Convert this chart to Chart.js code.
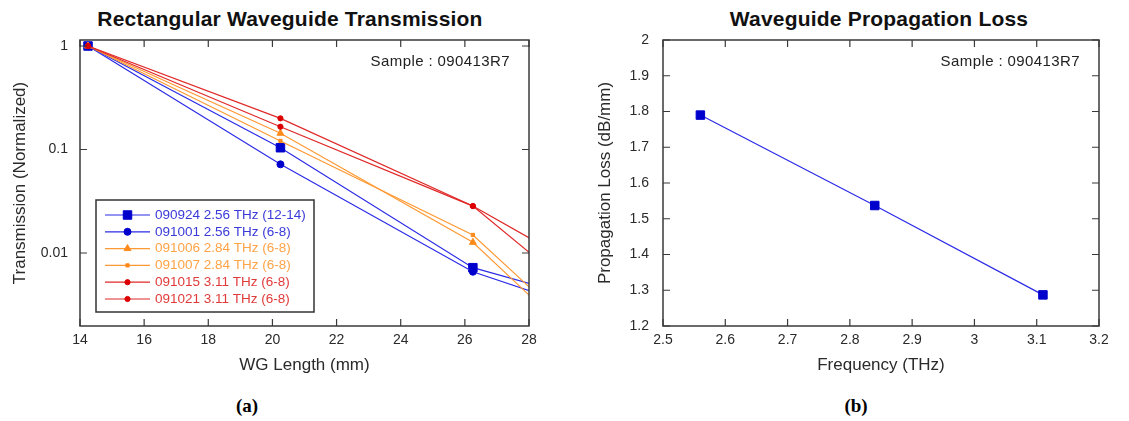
<!DOCTYPE html>
<html>
<head>
<meta charset="utf-8">
<script src="https://cdn.jsdelivr.net/npm/chart.js@4.4.0/dist/chart.umd.min.js"></script>
<style>
  body { margin: 0; background: #fff; width: 1129px; height: 421px; position: relative; overflow: hidden; }
  .box { position: absolute; top: 0; height: 380px; }
  #boxA { left: 0; width: 560px; }
  #boxB { left: 565px; width: 564px; }
  .title { position: absolute; top: 7px; font: bold 21px "Liberation Sans", Arial, sans-serif; letter-spacing: 0.2px;
           color: #111; transform: translateX(-50%); white-space: nowrap; }
  .cap { position: absolute; top: 395px; font: bold 19px "Liberation Serif", serif; color: #000; transform: translateX(-50%); }
</style>
</head>
<body>
<div class="title" style="left:290px">Rectangular Waveguide Transmission</div>
<div class="title" style="left:879px">Waveguide Propagation Loss</div>
<div id="boxA" class="box"><canvas id="chartA"></canvas></div>
<div id="boxB" class="box"><canvas id="chartB"></canvas></div>
<div class="cap" style="left:247px">(a)</div>
<div class="cap" style="left:856px">(b)</div>

<script>
// (a) transmission vs waveguide length, last point sits past the axis and gets clipped
const lengths = [14.25, 20.25, 26.25, 32.25];
const t090924 = [1, 0.104, 0.00721, 0.00219];
const t091001 = [1, 0.0719, 0.00659, 0.00155];
const t091006 = [1, 0.1435, 0.01268, 0.000228];
const t091007 = [1, 0.121, 0.01493, 0.000288];
const t091015 = [1, 0.200, 0.0284, 0.00254];
const t091021 = [1, 0.166, 0.0284, 0.000834];
const seriesNames = ["090924 2.56 THz (12-14)", "091001 2.56 THz (6-8)", "091006 2.84 THz (6-8)",
                     "091007 2.84 THz (6-8)", "091015 3.11 THz (6-8)", "091021 3.11 THz (6-8)"];
const lengthTicks = [14, 16, 18, 20, 22, 24, 26, 28];
const transTicks = [0.01, 0.1, 1];

// (b) loss vs frequency
const freqs = [2.56, 2.84, 3.11];
const lossDbPerMm = [1.79, 1.537, 1.287];
const freqTicks = [2.5, 2.6, 2.7, 2.8, 2.9, 3, 3.1, 3.2];
const lossTicks = [1.2, 1.3, 1.4, 1.5, 1.6, 1.7, 1.8, 1.9, 2];

const sampleNote = "Sample : 090413R7";

const FONT = '"Liberation Sans", Arial, sans-serif';
const BLUE = '#2b2be6', BLUE_M = '#0000cc';
const ORANGE = '#ff9933', ORANGE_M = '#ff8a1c';
const RED = '#e02828', RED_M = '#dd0000';
const legendTextColors = ['#3a3ad8', '#3a3ad8', '#ffa347', '#ffa347', '#e03a3a', '#e03a3a'];

function pts(xs, ys) { return xs.map((x, i) => ({x: x, y: ys[i]})); }

function series(i, ys, line, mark, style, r, order) {
  return {
    label: seriesNames[i], data: pts(lengths, ys), order: order,
    borderColor: line, borderWidth: 1.2, backgroundColor: mark,
    pointStyle: style, pointRadius: r, pointBorderWidth: 1,
    pointBackgroundColor: mark, pointBorderColor: mark
  };
}

// frame box + inward ticks on all four sides + the sample note
const frameTicks = {
  id: 'frameTicks',
  afterDatasetsDraw(chart, args, opts) {
    const {ctx, chartArea: a, scales} = chart;
    const len = 7;
    ctx.save();
    ctx.strokeStyle = '#3a3a3a';
    ctx.lineWidth = 1.5;
    ctx.strokeRect(a.left, a.top, a.right - a.left, a.bottom - a.top);
    ctx.lineWidth = 1.2;
    ctx.beginPath();
    scales.x.ticks.forEach(t => {
      const px = scales.x.getPixelForValue(t.value);
      ctx.moveTo(px, a.bottom); ctx.lineTo(px, a.bottom - len);
      ctx.moveTo(px, a.top); ctx.lineTo(px, a.top + len);
    });
    scales.y.ticks.forEach(t => {
      const py = scales.y.getPixelForValue(t.value);
      ctx.moveTo(a.left, py); ctx.lineTo(a.left + len, py);
      ctx.moveTo(a.right, py); ctx.lineTo(a.right - len, py);
    });
    ctx.stroke();
    if (opts.note) {
      ctx.font = '15px ' + FONT;
      ctx.letterSpacing = '0.4px';
      ctx.fillStyle = '#222';
      ctx.textAlign = 'right';
      ctx.textBaseline = 'middle';
      ctx.fillText(opts.note, a.right - 19, a.top + 22);
    }
    ctx.restore();
  }
};

// boxed legend inside the plot, lower left
const boxLegend = {
  id: 'boxLegend',
  afterDraw(chart, args, o) {
    if (!o.show) return;
    const {ctx, chartArea: a} = chart;
    const x0 = a.left + o.left, y0 = a.bottom - o.bottom - o.height;
    ctx.save();
    ctx.fillStyle = '#fff';
    ctx.fillRect(x0, y0, o.width, o.height);
    ctx.strokeStyle = '#333';
    ctx.lineWidth = 1.5;
    ctx.strokeRect(x0, y0, o.width, o.height);
    ctx.font = '13.5px ' + FONT;
    ctx.textBaseline = 'middle';
    ctx.textAlign = 'left';
    chart.data.datasets.forEach((ds, i) => {
      const y = y0 + o.first + i * o.row;
      const lx0 = x0 + 9, lx1 = lx0 + 45;
      ctx.strokeStyle = ds.borderColor;
      ctx.lineWidth = ds.borderWidth;
      ctx.beginPath(); ctx.moveTo(lx0, y); ctx.lineTo(lx1, y); ctx.stroke();
      ctx.fillStyle = ds.pointBackgroundColor;
      ctx.strokeStyle = ds.pointBorderColor;
      ctx.lineWidth = ds.pointBorderWidth;
      Chart.helpers.drawPoint(ctx, {pointStyle: ds.pointStyle, radius: ds.pointRadius,
        borderWidth: ds.pointBorderWidth, rotation: 0}, (lx0 + lx1) / 2, y);
      ctx.fillStyle = legendTextColors[i];
      ctx.fillText(ds.label, lx1 + 5, y);
    });
    ctx.restore();
  }
};

function fixSize(w, h) {
  return function (scale) {
    if (w != null) scale.width = w;
    if (h != null) scale.height = h;
    scale.paddingLeft = scale.paddingRight = scale.paddingTop = scale.paddingBottom = 0;
  };
}

function useTicks(list) {
  return function (scale) { scale.ticks = list.map(v => ({value: v})); };
}

function fmt(v) { return String(Math.round(v * 100) / 100); }

function axis(extra, titleText, titlePad, tickPad) {
  return Object.assign({
    grid: {display: false, drawTicks: false},
    border: {display: false},
    ticks: {font: {size: 14, family: FONT}, color: '#2a2a2a', padding: tickPad, callback: fmt, maxRotation: 0, autoSkip: false},
    title: {display: true, text: titleText, font: {size: 17, family: FONT}, color: '#2a2a2a', padding: titlePad}
  }, extra);
}

Chart.register(frameTicks, boxLegend);

new Chart(document.getElementById('chartA'), {
  type: 'line',
  data: {
    datasets: [
      series(0, t090924, BLUE, BLUE_M, 'rect', 6, 6),
      series(1, t091001, BLUE, BLUE_M, 'circle', 3.5, 5),
      series(2, t091006, ORANGE, ORANGE_M, 'triangle', 4, 4),
      series(3, t091007, ORANGE, ORANGE_M, 'rect', 2.3, 3),
      series(4, t091015, RED, RED_M, 'circle', 2.6, 2),
      series(5, t091021, RED, RED_M, 'circle', 2.6, 1)
    ]
  },
  options: {
    responsive: true, maintainAspectRatio: false, animation: false,
    layout: {padding: {top: 40, left: 0, right: 31, bottom: 0}, autoPadding: false},
    plugins: {
      legend: {display: false}, tooltip: {enabled: false},
      frameTicks: {note: sampleNote},
      boxLegend: {show: true, left: 16, bottom: 14, width: 218, height: 112, first: 15, row: 16.8}
    },
    scales: {
      x: axis({type: 'linear', min: 14, max: 28, afterBuildTicks: useTicks(lengthTicks), afterFit: fixSize(null, 54)},
              'WG Length (mm)', {top: 0, bottom: 4}, 5.6),
      y: axis({type: 'logarithmic', min: 0.00197, max: 1.143, afterBuildTicks: useTicks(transTicks), afterFit: fixSize(80, null)},
              'Transmission (Normalized)', {top: 10, bottom: 0}, 12)
    }
  }
});

new Chart(document.getElementById('chartB'), {
  type: 'line',
  data: {
    datasets: [{
      label: 'Propagation Loss', data: pts(freqs, lossDbPerMm),
      borderColor: BLUE, borderWidth: 1.2, backgroundColor: BLUE_M,
      pointStyle: 'rect', pointRadius: 6, pointBorderWidth: 1,
      pointBackgroundColor: BLUE_M, pointBorderColor: BLUE_M
    }]
  },
  options: {
    responsive: true, maintainAspectRatio: false, animation: false,
    layout: {padding: {top: 40, left: 0, right: 30, bottom: 0}, autoPadding: false},
    plugins: {
      legend: {display: false}, tooltip: {enabled: false},
      frameTicks: {note: sampleNote},
      boxLegend: {show: false}
    },
    scales: {
      x: axis({type: 'linear', min: 2.5, max: 3.2, afterBuildTicks: useTicks(freqTicks), afterFit: fixSize(null, 54)},
              'Frequency (THz)', {top: 0, bottom: 4}, 5.6),
      y: axis({type: 'linear', min: 1.2, max: 2, afterBuildTicks: useTicks(lossTicks), afterFit: fixSize(98, null)},
              'Propagation Loss (dB/mm)', {top: 30, bottom: 0}, 14)
    }
  }
});
</script>
</body>
</html>
